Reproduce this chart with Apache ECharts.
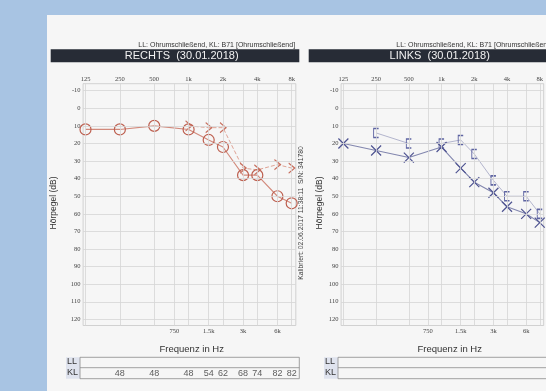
<!DOCTYPE html>
<html>
<head>
<meta charset="utf-8">
<script src="https://cdn.jsdelivr.net/npm/echarts@6/dist/echarts.min.js"></script>
<style>
  html, body { margin: 0; padding: 0; background: #a8c4e3; }
  #chart { width: 546px; height: 391px; }
</style>
</head>
<body>
<div id="chart"></div>
<script>
// audiogram data (dB HL)
const testFreqs   = [125, 250, 500, 1000, 1500, 2000, 3000, 4000, 6000, 8000]
const rightAir    = [12, 12, 10, 12, 18, 22, 38, 38, 50, 54]
const rightBoneFq = [1000, 1500, 2000, 3000, 4000, 6000, 8000]
const rightBone   = [10, 11, 11, 34, 35, 32, 34]
const leftAir     = [20, 24, 28, 22, 34, 42, 48, 56, 60, 65]
const leftBoneFq  = [250, 500, 1000, 1500, 2000, 3000, 4000, 6000, 8000]
const leftBone    = [14, 20, 20, 18, 26, 41, 50, 50, 60]
const klFreqs     = [250, 500, 1000, 1500, 2000, 3000, 4000, 6000, 8000]
const klRight     = [48, 48, 48, 54, 62, 68, 74, 82, 82]

const topTicks    = [125, 250, 500, 1000, 2000, 4000, 8000]
const topLabels   = ['125', '250', '500', '1k', '2k', '4k', '8k']
const bottomTicks = [750, 1500, 3000, 6000]
const bottomLabels = ['750', '1.5k', '3k', '6k']
const gridFreqs   = [125, 250, 500, 750, 1000, 1500, 2000, 3000, 4000, 6000, 8000]
const dbTicks     = [-10, 0, 10, 20, 30, 40, 50, 60, 70, 80, 90, 100, 110, 120]

// octaves above 125 Hz
const oct = f => Math.log2(f / 125)
const pick = (ticks, labels) => v => {
  const i = ticks.findIndex(t => Math.abs(oct(t) - v) < 1e-6)
  return i < 0 ? '' : labels[i]
}

const X_MIN = -0.07, X_MAX = 6.12
const Y_MIN = -14, Y_MAX = 123.5
const PLOT_W = 212.7
const SANS = '"Liberation Sans", Arial, sans-serif'
const SERIF = '"Liberation Serif", "Times New Roman", serif'
const tickFont = { fontSize: 6.5, fontFamily: SERIF, color: '#444' }

const panels = [
  { left: 83.1, air: rightAir, airFq: testFreqs, bone: rightBone, boneFq: rightBoneFq, kl: klRight, ear: 'R' },
  { left: 341.1, air: leftAir, airFq: testFreqs, bone: leftBone, boneFq: leftBoneFq, kl: [], ear: 'L' },
]

const grid = [], xAxis = [], yAxis = [], series = []

panels.forEach((p, k) => {
  const g = grid.length
  grid.push({ left: p.left, top: 83.7, width: PLOT_W, bottom: 65.5, show: true, borderColor: '#c8c8c8', borderWidth: 0.8 })
  grid.push({ left: p.left, top: 367.7, width: PLOT_W, height: 11 })

  const xTop = xAxis.length
  xAxis.push({
    gridIndex: g, type: 'value', position: 'top', min: X_MIN, max: X_MAX,
    axisLine: { show: false }, axisTick: { show: false }, splitLine: { show: false },
    axisLabel: { ...tickFont, margin: 1, customValues: topTicks.map(oct), formatter: pick(topTicks, topLabels) },
  })
  xAxis.push({
    gridIndex: g, type: 'value', position: 'bottom', min: X_MIN, max: X_MAX,
    axisLine: { show: false }, axisTick: { show: false }, splitLine: { show: false },
    axisLabel: { ...tickFont, margin: 2, customValues: bottomTicks.map(oct), formatter: pick(bottomTicks, bottomLabels) },
  })
  const xKl = xAxis.length
  xAxis.push({ gridIndex: g + 1, type: 'value', min: X_MIN, max: X_MAX, show: false })

  const yMain = yAxis.length
  yAxis.push({
    gridIndex: g, type: 'value', inverse: true, min: Y_MIN, max: Y_MAX,
    axisLine: { show: false }, axisTick: { show: false }, splitLine: { show: false },
    axisLabel: { ...tickFont, margin: 2.5, customValues: dbTicks },
  })
  yAxis.push({ gridIndex: g + 1, type: 'value', min: -1, max: 1, show: false })

  // grid lines
  series.push({
    type: 'line', xAxisIndex: xTop, yAxisIndex: yMain, silent: true,
    data: [[X_MIN, Y_MIN]], showSymbol: false, lineStyle: { opacity: 0 },
    markLine: {
      silent: true, symbol: ['none', 'none'], label: { show: false }, animation: false,
      lineStyle: { color: '#d6d6d6', width: 0.8, type: 'solid' },
      data: [...gridFreqs.map(f => ({ xAxis: oct(f) })), ...dbTicks.map(d => ({ yAxis: d }))],
    },
  })

  if (p.ear === 'R') {
    series.push({
      type: 'line', xAxisIndex: xTop, yAxisIndex: yMain, z: 3,
      data: p.boneFq.map((f, i) => [oct(f), p.bone[i]]),
      symbol: 'path://M0,0L8,6L0,12', symbolSize: [6, 10],
      itemStyle: { color: 'none', borderColor: '#c8705f', borderWidth: 1.2 },
      lineStyle: { color: '#dfa496', width: 1, type: [4, 2] },
    })
    series.push({
      type: 'line', xAxisIndex: xTop, yAxisIndex: yMain, z: 4,
      data: p.airFq.map((f, i) => [oct(f), p.air[i]]),
      symbol: 'circle', symbolSize: 11,
      itemStyle: { color: 'rgba(0,0,0,0)', borderColor: '#bd5f4f', borderWidth: 1.2 },
      lineStyle: { color: '#d28a7c', width: 1.1 },
    })
  } else {
    series.push({
      type: 'line', xAxisIndex: xTop, yAxisIndex: yMain, z: 3,
      data: p.boneFq.map((f, i) => [oct(f), p.bone[i]]),
      symbol: 'path://M6,0L0,0L0,12L6,12', symbolSize: [5, 9],
      itemStyle: { color: 'none', borderColor: '#5e64a2', borderWidth: 1.2 },
      lineStyle: { color: '#b3b5cd', width: 1 },
    })
    series.push({
      type: 'line', xAxisIndex: xTop, yAxisIndex: yMain, z: 4,
      data: p.airFq.map((f, i) => [oct(f), p.air[i]]),
      symbol: 'path://M0,0L10,10M10,0L0,10', symbolSize: 10,
      itemStyle: { color: 'none', borderColor: '#4e5391', borderWidth: 1.2 },
      lineStyle: { color: '#8286ae', width: 1.1 },
    })
  }

  // KL row values
  if (p.kl.length) {
    series.push({
      type: 'scatter', xAxisIndex: xKl, yAxisIndex: yMain + 1, silent: true, z: 5,
      data: klFreqs.map((f, i) => [oct(f), 0, p.kl[i]]),
      symbolSize: 2, itemStyle: { color: 'rgba(0,0,0,0)' },
      label: { show: true, position: 'inside', formatter: q => String(q.data[2]), fontSize: 9, fontFamily: SANS, color: '#333' },
    })
  }
})

// page furniture
const graphic = [
  { type: 'rect', shape: { x: 47, y: 15, width: 499, height: 376 }, style: { fill: '#f6f6f6' }, z: -10 },
]
;[0, 258].forEach((dx, k) => {
  const title = k === 0 ? 'RECHTS  (30.01.2018)' : 'LINKS  (30.01.2018)'
  const yLabelX = k === 0 ? 54 : 320
  graphic.push(
    { type: 'text', x: 138.3 + dx, y: 45, style: { text: 'LL: Ohrumschließend, KL: B71 [Ohrumschließend]', font: `7px ${SANS}`, fill: '#333', align: 'left', verticalAlign: 'middle' } },
    { type: 'rect', shape: { x: 50.7 + dx, y: 49.3, width: 248.6, height: 13 }, style: { fill: '#272c36' } },
    { type: 'text', x: 181.7 + dx, y: 56, style: { text: title, font: `11px ${SANS}`, fill: '#f2f2f2', align: 'center', verticalAlign: 'middle' } },
    { type: 'text', x: yLabelX, y: 203, rotation: Math.PI / 2, style: { text: 'Hörpegel (dB)', font: `8.5px ${SANS}`, fill: '#333', align: 'center', verticalAlign: 'middle' } },
    { type: 'text', x: 191.7 + dx, y: 349, style: { text: 'Frequenz in Hz', font: `9.5px ${SANS}`, fill: '#333', align: 'center', verticalAlign: 'middle' } },
    { type: 'rect', shape: { x: 66 + dx, y: 357.3, width: 14, height: 21.4 }, style: { fill: '#dfe3ee' } },
    { type: 'text', x: 67 + dx, y: 362, style: { text: 'LL', font: `9px ${SANS}`, fill: '#333', align: 'left', verticalAlign: 'middle' } },
    { type: 'text', x: 67 + dx, y: 373, style: { text: 'KL', font: `9px ${SANS}`, fill: '#333', align: 'left', verticalAlign: 'middle' } },
    { type: 'rect', shape: { x: 80 + dx, y: 357.3, width: 219.3, height: 21.4 }, style: { fill: 'none', stroke: '#8a8a8a', lineWidth: 0.8 } },
    { type: 'line', shape: { x1: 80 + dx, y1: 367.7, x2: 299.3 + dx, y2: 367.7 }, style: { stroke: '#8a8a8a', lineWidth: 0.8 } },
  )
})
graphic.push({
  type: 'text', x: 300.7, y: 213, rotation: Math.PI / 2,
  style: { text: 'Kalibriert: 02.06.2017 11:38:11  S/N: 341780', font: `6.8px ${SANS}`, fill: '#444', align: 'center', verticalAlign: 'middle' },
})

const chart = echarts.init(document.getElementById('chart'), null, { renderer: 'canvas' })
chart.setOption({ animation: false, backgroundColor: '#a8c4e3', grid, xAxis, yAxis, series, graphic })
</script>
</body>
</html>
